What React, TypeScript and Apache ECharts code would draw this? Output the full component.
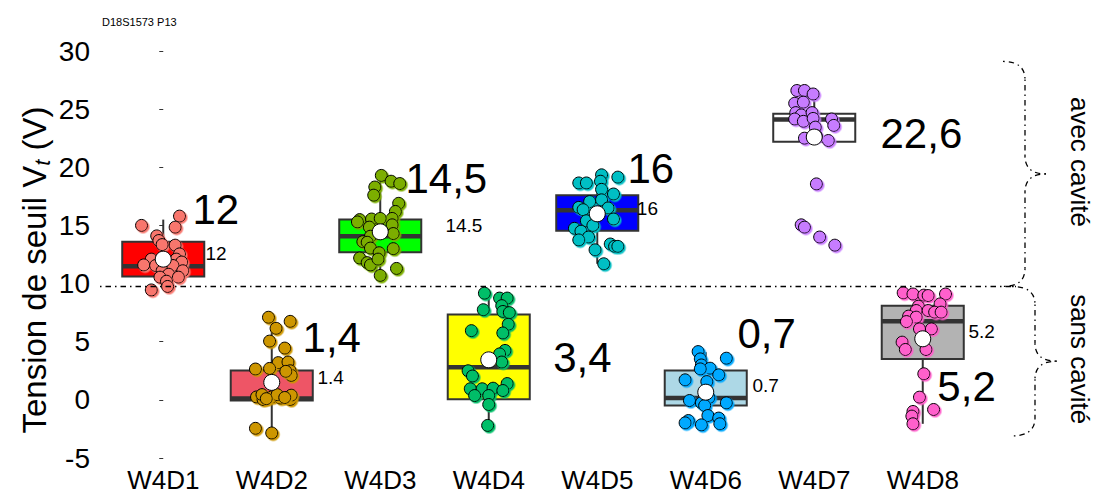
import React, { useEffect, useRef } from "react";
import * as echarts from "echarts";

// ---- data ----
const categories = ["W4D1", "W4D2", "W4D3", "W4D4", "W4D5", "W4D6", "W4D7", "W4D8"];
const boxFills = ["#FF0000", "#EE5566", "#00FF00", "#FFFF00", "#0000FF", "#ADD8E6", "#FFFFFF", "#B3B3B3"];
const pointColors = ["#F8766D", "#CD9600", "#7CAE00", "#00BE67", "#00BFC4", "#00A9FF", "#C77CFF", "#FF61CC"];

const whiskerLow = [9.5, -2.9, 10.7, -2.2, 11.7, -2.15, 22.2, -2.06];
const quart1 = [10.6, -0.05, 12.7, 0.05, 14.55, -0.49, 22.2, 3.52];
const medians = [11.5, 0.12, 14.07, 2.8, 16.3, 0.15, 24.1, 6.77];
const quart3 = [13.6, 2.52, 15.5, 7.33, 17.6, 2.52, 24.6, 8.1];
const whiskerHigh = [15.5, 6.15, 19.3, 9.17, 19.35, 4.1, 26.4, 9.2];
const means = [12.1, 1.5, 14.45, 3.44, 16.0, 0.66, 22.6, 5.25];

// jittered observations: [horizontal jitter (category units), value]
const obsW4D1: [number, number][] = [
  [-0.2, 15.0], [0.15, 15.8], [0.11, 14.85], [-0.06, 14.1], [-0.04, 13.7], [-0.01, 13.35], [0.11, 13.3],
  [0.15, 12.55], [0.12, 12.1], [0.17, 11.85], [-0.11, 12.1], [-0.18, 11.6], [-0.07, 11.55], [0.09, 11.55],
  [0.18, 11.1], [-0.01, 11.1], [0.05, 10.8], [-0.03, 10.55], [0.14, 10.55], [0.03, 10.2], [0.04, 9.75], [-0.11, 9.45],
];
const obsW4D2: [number, number][] = [
  [-0.03, 7.1], [0.17, 6.75], [0.04, 6.15], [-0.02, 5.05], [0.12, 4.45], [0.06, 3.2], [0.15, 3.25], [0.17, 2.5],
  [0.18, 2.1], [-0.15, 2.65], [-0.02, 2.7], [0.13, 2.45], [-0.14, 0.25], [-0.08, 0.03], [0.0, 0.25], [0.08, 0.15],
  [0.17, 0.03], [-0.09, 0.45], [0.05, 0.45], [0.18, 0.4], [-0.05, 0.1], [0.12, 0.2], [-0.15, -2.45], [0.0, -2.85],
];
const obsW4D3: [number, number][] = [
  [0.01, 19.3], [0.1, 18.8], [0.18, 18.6], [-0.05, 18.3], [-0.06, 17.6], [0.17, 16.9], [0.14, 16.2], [0.11, 15.6],
  [-0.19, 15.5], [-0.08, 15.55], [0.0, 15.6], [-0.21, 15.3], [-0.1, 14.85], [0.11, 15.05], [0.12, 14.3],
  [-0.09, 14.07], [-0.16, 13.6], [-0.12, 13.55], [-0.09, 13.05], [0.12, 13.0], [-0.01, 12.65], [-0.19, 12.2],
  [-0.12, 11.8], [-0.09, 11.6], [-0.02, 12.1], [0.15, 11.3], [0.0, 10.7],
];
const obsW4D4: [number, number][] = [
  [-0.04, 9.17], [0.1, 8.75], [0.17, 8.75], [0.12, 8.1], [-0.05, 7.75], [0.13, 7.6], [0.19, 7.5], [0.18, 6.5],
  [0.13, 5.75], [-0.16, 5.95], [0.15, 4.25], [0.1, 3.95], [0.12, 3.25], [-0.19, 2.5], [-0.15, 2.05], [-0.17, 0.95],
  [-0.06, 0.95], [0.04, 1.0], [0.17, 1.4], [-0.13, 0.37], [0.0, 0.37], [0.13, 0.8], [0.0, -0.4], [-0.01, -2.2],
];
const obsW4D5: [number, number][] = [
  [0.04, 19.35], [0.19, 19.15], [-0.17, 18.65], [-0.1, 18.65], [0.03, 18.8], [0.04, 18.1], [0.15, 17.7],
  [-0.07, 17.05], [0.04, 17.2], [-0.17, 16.55], [-0.13, 16.35], [0.1, 16.5], [-0.1, 15.4], [0.15, 15.55],
  [-0.04, 15.0], [-0.21, 14.75], [-0.15, 14.5], [-0.08, 14.0], [-0.17, 13.75], [0.12, 13.4], [0.16, 13.2],
  [0.19, 13.2], [-0.02, 12.9], [0.06, 11.7],
];
const obsW4D6: [number, number][] = [
  [-0.07, 4.15], [0.19, 3.58], [-0.05, 3.52], [-0.04, 3.0], [0.04, 2.72], [-0.05, 2.66], [0.12, 2.15],
  [-0.19, 1.72], [0.01, 1.57], [0.03, 0.2], [-0.15, -0.06], [-0.04, -0.26], [0.19, -0.26], [-0.01, -0.49],
  [0.02, -1.35], [0.12, -1.57], [-0.16, -1.78], [-0.04, -2.15], [-0.19, -1.98], [0.13, -2.06],
];
const obsW4D7: [number, number][] = [
  [-0.16, 26.6], [-0.09, 26.6], [-0.01, 26.3], [-0.18, 25.5], [-0.1, 25.6], [-0.17, 24.7], [-0.12, 24.5],
  [-0.02, 24.7], [-0.18, 24.15], [-0.1, 23.95], [-0.01, 24.2], [0.16, 24.15], [0.18, 23.6], [0.01, 23.45],
  [-0.09, 22.5], [0.13, 22.3], [0.02, 22.7], [0.02, 18.57], [-0.12, 15.05], [-0.09, 14.85], [0.05, 14.0], [0.19, 13.3],
];
const obsW4D8: [number, number][] = [
  [-0.18, 9.2], [-0.09, 9.1], [0.01, 9.0], [0.05, 8.97], [0.21, 9.1], [0.16, 8.25], [-0.04, 8.05], [-0.06, 7.68],
  [0.05, 7.68], [0.11, 7.54], [0.17, 7.54], [-0.13, 7.2], [-0.06, 7.11], [-0.15, 6.73], [-0.03, 6.1], [0.08, 6.1],
  [-0.19, 4.96], [-0.16, 4.33], [0.03, 4.33], [0.01, 2.24], [-0.03, 0.23], [0.1, -0.83], [-0.09, -1.0],
  [-0.1, -1.4], [-0.09, -2.06],
];
const observations = [obsW4D1, obsW4D2, obsW4D3, obsW4D4, obsW4D5, obsW4D6, obsW4D7, obsW4D8];

// annotations
const bigLabels = ["12", "1,4", "14,5", "3,4", "16", "0,7", "22,6", "5,2"];
const bigLabelX = [0.265, 1.279, 2.228, 3.59, 4.274, 5.287, 6.606, 7.13];
const bigLabelY = [16.4, 5.4, 19.0, 3.6, 19.9, 5.7, 22.9, 1.15];
const smallLabels = ["12", "1.4", "14.5", "16", "0.7", "5.2"];
const smallLabelX = [0.385, 1.417, 2.596, 4.36, 5.426, 7.417];
const smallLabelY = [12.6, 1.9, 15.0, 16.45, 1.2, 5.85];

const yMin = -5;
const yMax = 30;
const yStep = 5;
const separatorValue = 9.75;
const groupAvec = [29.1, 9.75];
const groupSans = [9.75, -3.1];
const titleText = "D18S1573 P13";

const FONT = "'Liberation Sans', Arial, Helvetica, sans-serif";

export default function App() {
  const ref = useRef<HTMLDivElement>(null);

  useEffect(() => {
    const chart = echarts.init(ref.current as HTMLDivElement, null, { renderer: "svg" });

    const boxData = categories.map((_, i) => [i, whiskerLow[i], quart1[i], medians[i], quart3[i], whiskerHigh[i]]);

    const renderBox = (params: any, api: any) => {
      const i = api.value(0);
      const idx = params.dataIndex;
      const lo = api.coord([i, api.value(1)]);
      const q1p = api.coord([i, api.value(2)]);
      const med = api.coord([i, api.value(3)]);
      const q3p = api.coord([i, api.value(4)]);
      const hi = api.coord([i, api.value(5)]);
      const half = api.size([1, 0])[0] * 0.378;
      const cx = lo[0];
      const stroke = "#333333";
      return {
        type: "group",
        children: [
          { type: "line", shape: { x1: cx, y1: q3p[1], x2: cx, y2: hi[1] }, style: { stroke, lineWidth: 2 } },
          { type: "line", shape: { x1: cx, y1: q1p[1], x2: cx, y2: lo[1] }, style: { stroke, lineWidth: 2 } },
          {
            type: "rect",
            shape: { x: cx - half, y: q3p[1], width: half * 2, height: q1p[1] - q3p[1] },
            style: { fill: boxFills[idx], stroke, lineWidth: 2 },
          },
          {
            type: "line",
            shape: { x1: cx - half, y1: med[1], x2: cx + half, y2: med[1] },
            style: { stroke, lineWidth: 4.5 },
          },
        ],
      };
    };

    const pointSeries = observations.map((obs, i) => ({
      type: "scatter",
      xAxisIndex: 1,
      data: obs.map(([dx, v]) => [i + dx, v]),
      symbolSize: 12,
      z: 3,
      itemStyle: {
        color: pointColors[i],
        borderColor: "#000",
        borderWidth: 1,
        opacity: 1,
        shadowColor: pointColors[i],
        shadowBlur: 0,
        shadowOffsetX: 1.5,
        shadowOffsetY: 1.5,
      },
    }));

    const labelSeries = (texts: string[], xs: number[], ys: number[], size: number) => ({
      type: "scatter",
      xAxisIndex: 1,
      z: 5,
      symbolSize: 1,
      itemStyle: { color: "rgba(0,0,0,0)", opacity: 1 },
      data: texts.map((t, k) => ({ name: t, value: [xs[k], ys[k]] })),
      label: {
        show: true,
        position: "right",
        distance: 0,
        align: "left",
        verticalAlign: "middle",
        fontSize: size,
        color: "#000000",
        opacity: 1,
        textBorderWidth: 0,
        fontFamily: FONT,
        formatter: (p: any) => p.name,
      },
    });

    chart.setOption({
      animation: false,
      title: {
        text: titleText,
        left: 97,
        top: 11,
        textStyle: { fontSize: 11, fontWeight: "normal", color: "#000", fontFamily: FONT },
      },
      grid: { left: 109, right: 123, top: 51, bottom: 37, containLabel: false },
      xAxis: [
        {
          type: "category",
          data: categories,
          axisLine: { show: false },
          axisTick: { show: false },
          splitLine: { show: false },
          axisLabel: { fontSize: 26, color: "#000", margin: 9, fontFamily: FONT },
        },
        { type: "value", min: -0.5, max: 7.5, show: false },
      ],
      yAxis: {
        type: "value",
        min: yMin,
        max: yMax,
        interval: yStep,
        offset: 11,
        axisLine: { show: false },
        axisTick: { show: true, length: 4, lineStyle: { color: "#333" } },
        splitLine: { show: false },
        axisLabel: { fontSize: 28, color: "#000", margin: 8, fontFamily: FONT },
      },
      series: [
        { type: "custom", xAxisIndex: 0, renderItem: renderBox, data: boxData, encode: { x: 0, y: [1, 2, 3, 4, 5] }, z: 1 },
        ...pointSeries,
        {
          type: "scatter",
          xAxisIndex: 0,
          data: means.map((m, i) => [i, m]),
          symbolSize: 16,
          z: 4,
          itemStyle: { color: "#FFFFFF", borderColor: "#000", borderWidth: 1, opacity: 1 },
        },
        labelSeries(bigLabels, bigLabelX, bigLabelY, 42),
        labelSeries(smallLabels, smallLabelX, smallLabelY, 19),
      ],
    });

    const yPix = (v: number) => chart.convertToPixel({ yAxisIndex: 0 }, v) as number;
    const dash = [1.5, 4, 5.5, 4];
    const lineStyle = { stroke: "#000", lineWidth: 1.3, lineDash: dash, fill: null };

    const brace = (yTop: number, yBot: number, xEnd: number, xVert: number, xTip: number, r: number) => {
      const yMid = (yTop + yBot) / 2;
      return [
        { type: "bezierCurve", shape: { x1: xEnd, y1: yTop, cpx1: xVert, cpy1: yTop, x2: xVert, y2: yTop + r }, style: lineStyle },
        { type: "line", shape: { x1: xVert, y1: yTop + r, x2: xVert, y2: yMid - r }, style: lineStyle },
        { type: "bezierCurve", shape: { x1: xVert, y1: yMid - r, cpx1: xVert, cpy1: yMid, x2: xTip, y2: yMid }, style: lineStyle },
        { type: "bezierCurve", shape: { x1: xTip, y1: yMid, cpx1: xVert, cpy1: yMid, x2: xVert, y2: yMid + r }, style: lineStyle },
        { type: "line", shape: { x1: xVert, y1: yMid + r, x2: xVert, y2: yBot - r }, style: lineStyle },
        { type: "bezierCurve", shape: { x1: xVert, y1: yBot - r, cpx1: xVert, cpy1: yBot, x2: xEnd, y2: yBot }, style: lineStyle },
      ];
    };

    const ySep = yPix(separatorValue);
    const avecTop = yPix(groupAvec[0]);
    const avecBot = yPix(groupAvec[1]);
    const sansTop = yPix(groupSans[0]);
    const sansBot = yPix(groupSans[1]);

    chart.setOption({
      graphic: [
        { type: "line", shape: { x1: 100, y1: ySep, x2: 1016, y2: ySep }, style: lineStyle, z: 10 },
        ...brace(avecTop, avecBot, 1003, 1025, 1046, 18),
        ...brace(sansTop, sansBot, 1012, 1035, 1057, 18),
        {
          type: "text",
          x: 1080,
          y: (avecTop + avecBot) / 2 - 12,
          rotation: -Math.PI / 2,
          style: { text: "avec cavité", fontSize: 26, fill: "#000", fontFamily: FONT, align: "center", verticalAlign: "middle" },
        },
        {
          type: "text",
          x: 1080,
          y: (sansTop + sansBot) / 2 - 2,
          rotation: -Math.PI / 2,
          style: { text: "sans cavité", fontSize: 26, fill: "#000", fontFamily: FONT, align: "center", verticalAlign: "middle" },
        },
        {
          type: "text",
          x: 34,
          y: 270,
          rotation: Math.PI / 2,
          style: {
            text: "Tension de seuil V{sub|t} (V)",
            fontSize: 33,
            fill: "#000",
            fontFamily: FONT,
            align: "center",
            verticalAlign: "middle",
            lineHeight: 38,
            rich: {
              sub: { fontSize: 22, fontStyle: "italic", fontFamily: FONT, fill: "#000", verticalAlign: "bottom", lineHeight: 24 },
            },
          },
        },
      ],
    });

    return () => chart.dispose();
  }, []);

  return <div ref={ref} style={{ position: "absolute", left: 0, top: 0, width: 1100, height: 495 }} />;
}
